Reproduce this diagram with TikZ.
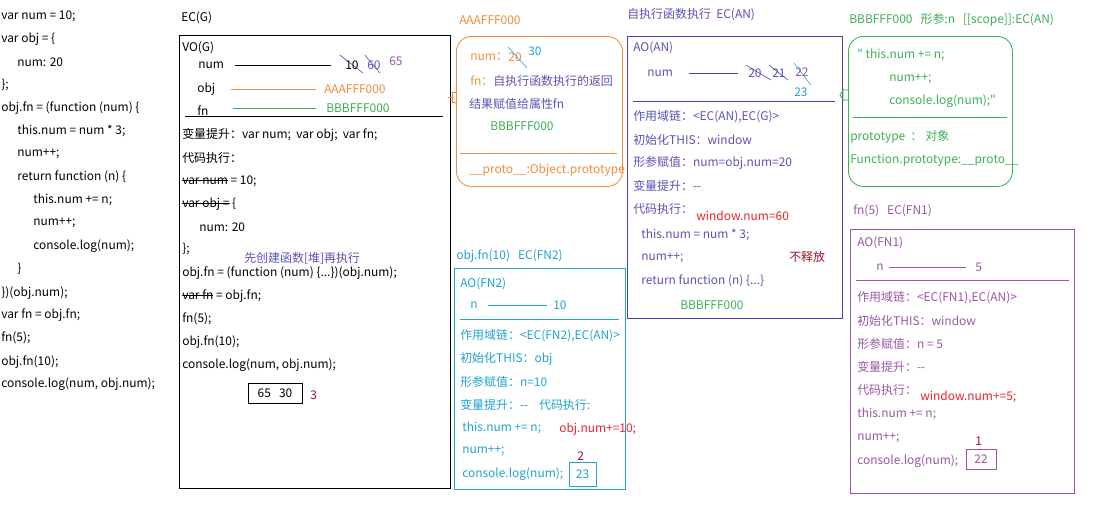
\documentclass[tikz,border=0pt]{standalone}
\usepackage{fontspec}
\setmainfont{Noto Sans CJK SC}[Ligatures=TeXOff]
\usepackage{tikz}
\usetikzlibrary{positioning}
\definecolor{heapA}{HTML}{EE8E3A}
\definecolor{heapB}{HTML}{3DAF55}
\definecolor{ecAN}{HTML}{4545A5}
\definecolor{note}{HTML}{5656B4}
\definecolor{ecFN2}{HTML}{1FA3CF}
\definecolor{ecFN1}{HTML}{9A55A6}
\definecolor{hot}{HTML}{E8252F}
\definecolor{deep}{HTML}{9E1424}
\newcommand\strk[1]{\setbox0\hbox{#1}\rlap{\rule[0.3em]{\wd0}{0.5pt}}\box0\relax}
\tikzset{
  txt/.style={anchor=west, inner sep=0pt, text=#1,
    font=\fontsize{8.5pt}{10pt}\selectfont},
  txt/.default=black,
  ecbox/.style={draw=#1, anchor=north west, inner sep=0pt, semithick},
  heapbox/.style={draw=#1, anchor=north west, inner sep=0pt,
    rounded corners=0.38cm, semithick},
  valbox/.style={draw=#1, inner sep=0pt, semithick,
    font=\fontsize{8.5pt}{10pt}\selectfont},
  ptr/.style={draw=#1, semithick},
  strike/.style={draw=#1, thin},
  sepline/.style={draw=#1, semithick}
}

\begin{document}
\begin{tikzpicture}[x=0.025cm, y=-0.025cm]
    \useasboundingbox[fill=white] (0,0) rectangle (1102,522);

    % source code
    \node[txt] (c1) at (1,16) {var num = 10;};
    \node[txt] (c2) at (1,39) {var obj = \{};
    \node[txt] (c3) at (17,62) {num: 20};
    \node[txt] (c4) at (1,85) {\};};
    \node[txt] (c5) at (1,108) {obj.fn = (function (num) \{};
    \node[txt] (c6) at (17,131) {this.num = num * 3;};
    \node[txt] (c7) at (17,154) {num++;};
    \node[txt] (c8) at (17,177) {return function (n) \{};
    \node[txt] (c9) at (33,200) {this.num += n;};
    \node[txt] (c10) at (33,223) {num++;};
    \node[txt] (c11) at (33,246) {console.log(num);};
    \node[txt] (c12) at (17,269) {\}};
    \node[txt] (c13) at (1,293) {\})(obj.num);};
    \node[txt] (c14) at (1,315) {var fn = obj.fn;};
    \node[txt] (c15) at (1,338) {fn(5);};
    \node[txt] (c16) at (1,362) {obj.fn(10);};
    \node[txt] (c17) at (1,384) {console.log(num, obj.num);};

    % EC(G)
    \node[txt] (ecgT) at (181,18) {EC(G)};
    \node[ecbox=black, minimum width=6.775cm, minimum height=11.325cm] (ecg) at (179,35) {};
    \node[txt] (vog) at (182,48) {VO(G)};
    \node[txt] (gnum) at (198,65) {num};
    \node[txt] (g10) at (345,65) {10};
    \node[txt=note] (g60) at (367,65) {60};
    \node[txt=ecFN1] (g65) at (389,61) {65};
    \draw[ptr=black, shorten <=0.28cm, shorten >=0.35cm] (gnum.east) -- (g10.west);
    \draw[strike=ecAN] ([shift={(-12,-10)}]g10.center) -- ([shift={(11,8)}]g10.center);
    \draw[strike=ecAN] ([shift={(-9,-10)}]g60.center) -- ([shift={(6,8)}]g60.center);
    \node[txt] (gobj) at (197,89) {obj};
    \node[txt=heapA] (gA) at (324,89) {AAAFFF000};
    \draw[ptr=heapA, shorten <=0.4cm, shorten >=0.2cm] (gobj.east) -- (gA.west);
    \node[txt] (gfn) at (197,111) {fn};
    \node[txt=heapB] (gB) at (326,108) {BBBFFF000};
    \draw[ptr=heapB, shorten <=0.6cm, shorten >=0.25cm] (gfn.east |- gB.west) -- (gB.west);
    \draw[sepline=black] (185,116) -- (443,116);
    \node[txt] (g1) at (182,135) {变量提升：var num;\ \ var obj;\ \ var fn;};
    \node[txt] (g2) at (182,158) {代码执行：};
    \node[txt] (g3) at (182,181) {\strk{var num} = 10;};
    \node[txt] (g4) at (182,204) {\strk{var obj =} \{};
    \node[txt] (g5) at (199,227) {num: 20};
    \node[txt] (g6) at (182,249) {\};};
    \node[txt=note] (gnote) at (244,258) {先创建函数[堆]再执行};
    \node[txt] (g7) at (182,273) {obj.fn = (function (num) \{...\})(obj.num);};
    \node[txt] (g8) at (182,296) {\strk{var fn} = obj.fn;};
    \node[txt] (g9) at (182,319) {fn(5);};
    \node[txt] (g10b) at (182,342) {obj.fn(10);};
    \node[txt] (g11) at (182,365) {console.log(num, obj.num);};
    \node[valbox=black, minimum width=1.35cm, minimum height=0.5cm] (gres) at (275,393) {65\ \ \ 30};
    \node[txt=deep] (gstep) at (310,395) {3};

    % heap AAAFFF000
    \node[txt=heapA] (haT) at (459,20) {AAAFFF000};
    \node[heapbox=heapA, minimum width=4.15cm, minimum height=3.75cm] (ha) at (456,36) {};
    \node[txt=heapA] (ha1) at (470,57) {num：};
    \node[txt=heapA, right=0pt of ha1] (ha20) {20};
    \node[txt=ecFN2] (ha30) at (528,51) {30};
    \draw[strike=ecFN2] ([shift={(-7,-10)}]ha20.center) -- ([shift={(12,11)}]ha20.center);
    \node[txt=note] (ha2) at (470,81) {\textcolor{heapA}{fn：}自执行函数执行的返回};
    \node[txt=note] (ha3) at (469,104) {结果赋值给属性fn};
    \node[txt=heapB] (ha4) at (490,126) {BBBFFF000};
    \draw[sepline=heapA] (460,153) -- (617,153);
    \node[txt=heapA] (ha5) at (469,170) {\_\_proto\_\_:Object.prototype};
    \draw[heapA, semithick] (448,97) -- (452,97) (456,92) -- (452,92) -- (452,102) -- (456,102);

    % EC(AN)
    \node[txt=note] (anT) at (627,15) {自执行函数执行\ \ EC(AN)};
    \node[ecbox=ecAN, minimum width=5.375cm, minimum height=7.05cm] (ecan) at (627,36) {};
    \node[txt=note] (aoan) at (633,48) {AO(AN)};
    \node[txt=note] (anum) at (647,73) {num};
    \node[txt=note] (a20) at (748,73) {20};
    \node[txt=note] (a21) at (772,73) {21};
    \node[txt=ecFN1] (a22) at (795,72) {22};
    \node[txt=ecFN2] (a23) at (794,92) {23};
    \draw[ptr=ecAN, shorten <=0.4cm, shorten >=0.25cm] (anum.east) -- (a20.west);
    \draw[strike=ecAN] ([shift={(-9,-8)}]a20.center) -- ([shift={(16,7)}]a20.center);
    \draw[strike=ecAN] ([shift={(-10,-8)}]a21.center) -- ([shift={(9,7)}]a21.center);
    \draw[strike=ecFN2] ([shift={(-8,-9)}]a22.center) -- ([shift={(9,13)}]a22.center);
    \draw[sepline=ecAN] (633,101) -- (835,101);
    \node[txt=note] (an1) at (633,117) {作用域链：<EC(AN),EC(G)>};
    \node[txt=note] (an2) at (633,140) {初始化THIS：window};
    \node[txt=note] (an3) at (633,163) {形参赋值：num=obj.num=20};
    \node[txt=note] (an4) at (633,186) {变量提升：--};
    \node[txt=note] (an5) at (633,209) {代码执行：};
    \node[txt=hot] (an6) at (696,216) {window.num=60};
    \node[txt=note] (an7) at (641,235) {this.num = num * 3;};
    \node[txt=note] (an8) at (641,258) {num++;};
    \node[txt=deep] (an9) at (789,257) {不释放};
    \node[txt=note] (an10) at (641,281) {return function (n) \{...\}};
    \node[txt=heapB] (an11) at (680,305) {BBBFFF000};

    % heap BBBFFF000
    \node[txt=heapB] (hbT) at (849,20) {BBBFFF000\ \ \ 形参:n\ \ \ [[scope]]:EC(AN)};
    \node[heapbox=heapB, minimum width=4.1cm, minimum height=3.75cm] (hb) at (848,36) {};
    \node[txt=heapB] (hb1) at (857,55) {" this.num += n;};
    \node[txt=heapB] (hb2) at (889,79) {num++;};
    \node[txt=heapB] (hb3) at (889,101) {console.log(num);"};
    \draw[sepline=heapB] (853,117) -- (1007,117);
    \node[txt=heapB] (hb4) at (850,137) {prototype\ \ ：\ 对象};
    \node[txt=heapB] (hb5) at (850,160) {Function.prototype:\_\_proto\_\_};
    \draw[heapB, semithick] (840,95) -- (843,90) -- (843,100) -- cycle (843,90) -- (848,90) (843,100) -- (848,100);

    % EC(FN2)
    \node[txt=ecFN2] (f2T) at (456,256) {obj.fn(10)\ \ \ EC(FN2)};
    \node[ecbox=ecFN2, minimum width=4.275cm, minimum height=5.525cm] (ecfn2) at (454,268) {};
    \node[txt=ecFN2] (aof2) at (460,284) {AO(FN2)};
    \node[txt=ecFN2] (f2n) at (470,305) {n};
    \node[txt=ecFN2] (f2v) at (553,305) {10};
    \draw[ptr=ecFN2, shorten <=0.25cm, shorten >=0.15cm] (f2n.east) -- (f2v.west);
    \draw[sepline=ecFN2] (460,319) -- (619,319);
    \node[txt=ecFN2] (f21) at (460,336) {作用域链：<EC(FN2),EC(AN)>};
    \node[txt=ecFN2] (f22) at (460,359) {初始化THIS：obj};
    \node[txt=ecFN2] (f23) at (460,382) {形参赋值：n=10};
    \node[txt=ecFN2] (f24) at (460,405) {变量提升：--\ \ \ \ 代码执行:};
    \node[txt=ecFN2] (f25) at (462,428) {this.num += n;};
    \node[txt=hot] (f26) at (559,429) {obj.num+=10;};
    \node[txt=ecFN2] (f27) at (462,451) {num++;};
    \node[txt=deep] (f2step) at (577,456) {2};
    \node[txt=ecFN2] (f28) at (462,474) {console.log(num);};
    \node[valbox=ecFN2, text=ecFN2, minimum width=0.675cm, minimum height=0.6cm] (f2res) at (582.5,474) {23};

    % EC(FN1)
    \node[txt=ecFN1] (f1T) at (853,211) {fn(5)\ \ \ EC(FN1)};
    \node[ecbox=ecFN1, minimum width=5.6cm, minimum height=6.6cm] (ecfn1) at (850,229) {};
    \node[txt=ecFN1] (aof1) at (857,243) {AO(FN1)};
    \node[txt=ecFN1] (f1n) at (876,267) {n};
    \node[txt=ecFN1] (f1v) at (975,267) {5};
    \draw[ptr=ecFN1, shorten <=0.13cm, shorten >=0.22cm] (f1n.east) -- (f1v.west);
    \draw[sepline=ecFN1] (856,280) -- (1069,280);
    \node[txt=ecFN1] (f11) at (857,298) {作用域链：<EC(FN1),EC(AN)>};
    \node[txt=ecFN1] (f12) at (857,321) {初始化THIS：window};
    \node[txt=ecFN1] (f13) at (857,344) {形参赋值：n = 5};
    \node[txt=ecFN1] (f14) at (857,367) {变量提升：--};
    \node[txt=ecFN1] (f15) at (857,390) {代码执行：};
    \node[txt=hot] (f16) at (920,397) {window.num+=5;};
    \node[txt=ecFN1] (f17) at (857,414) {this.num += n;};
    \node[txt=ecFN1] (f18) at (857,438) {num++;};
    \node[txt=deep] (f1step) at (975,441) {1};
    \node[txt=ecFN1] (f19) at (857,461) {console.log(num);};
    \node[valbox=ecFN1, text=ecFN1, minimum width=0.75cm, minimum height=0.5cm] (f1res) at (981,459) {22};
\end{tikzpicture}
\end{document}
